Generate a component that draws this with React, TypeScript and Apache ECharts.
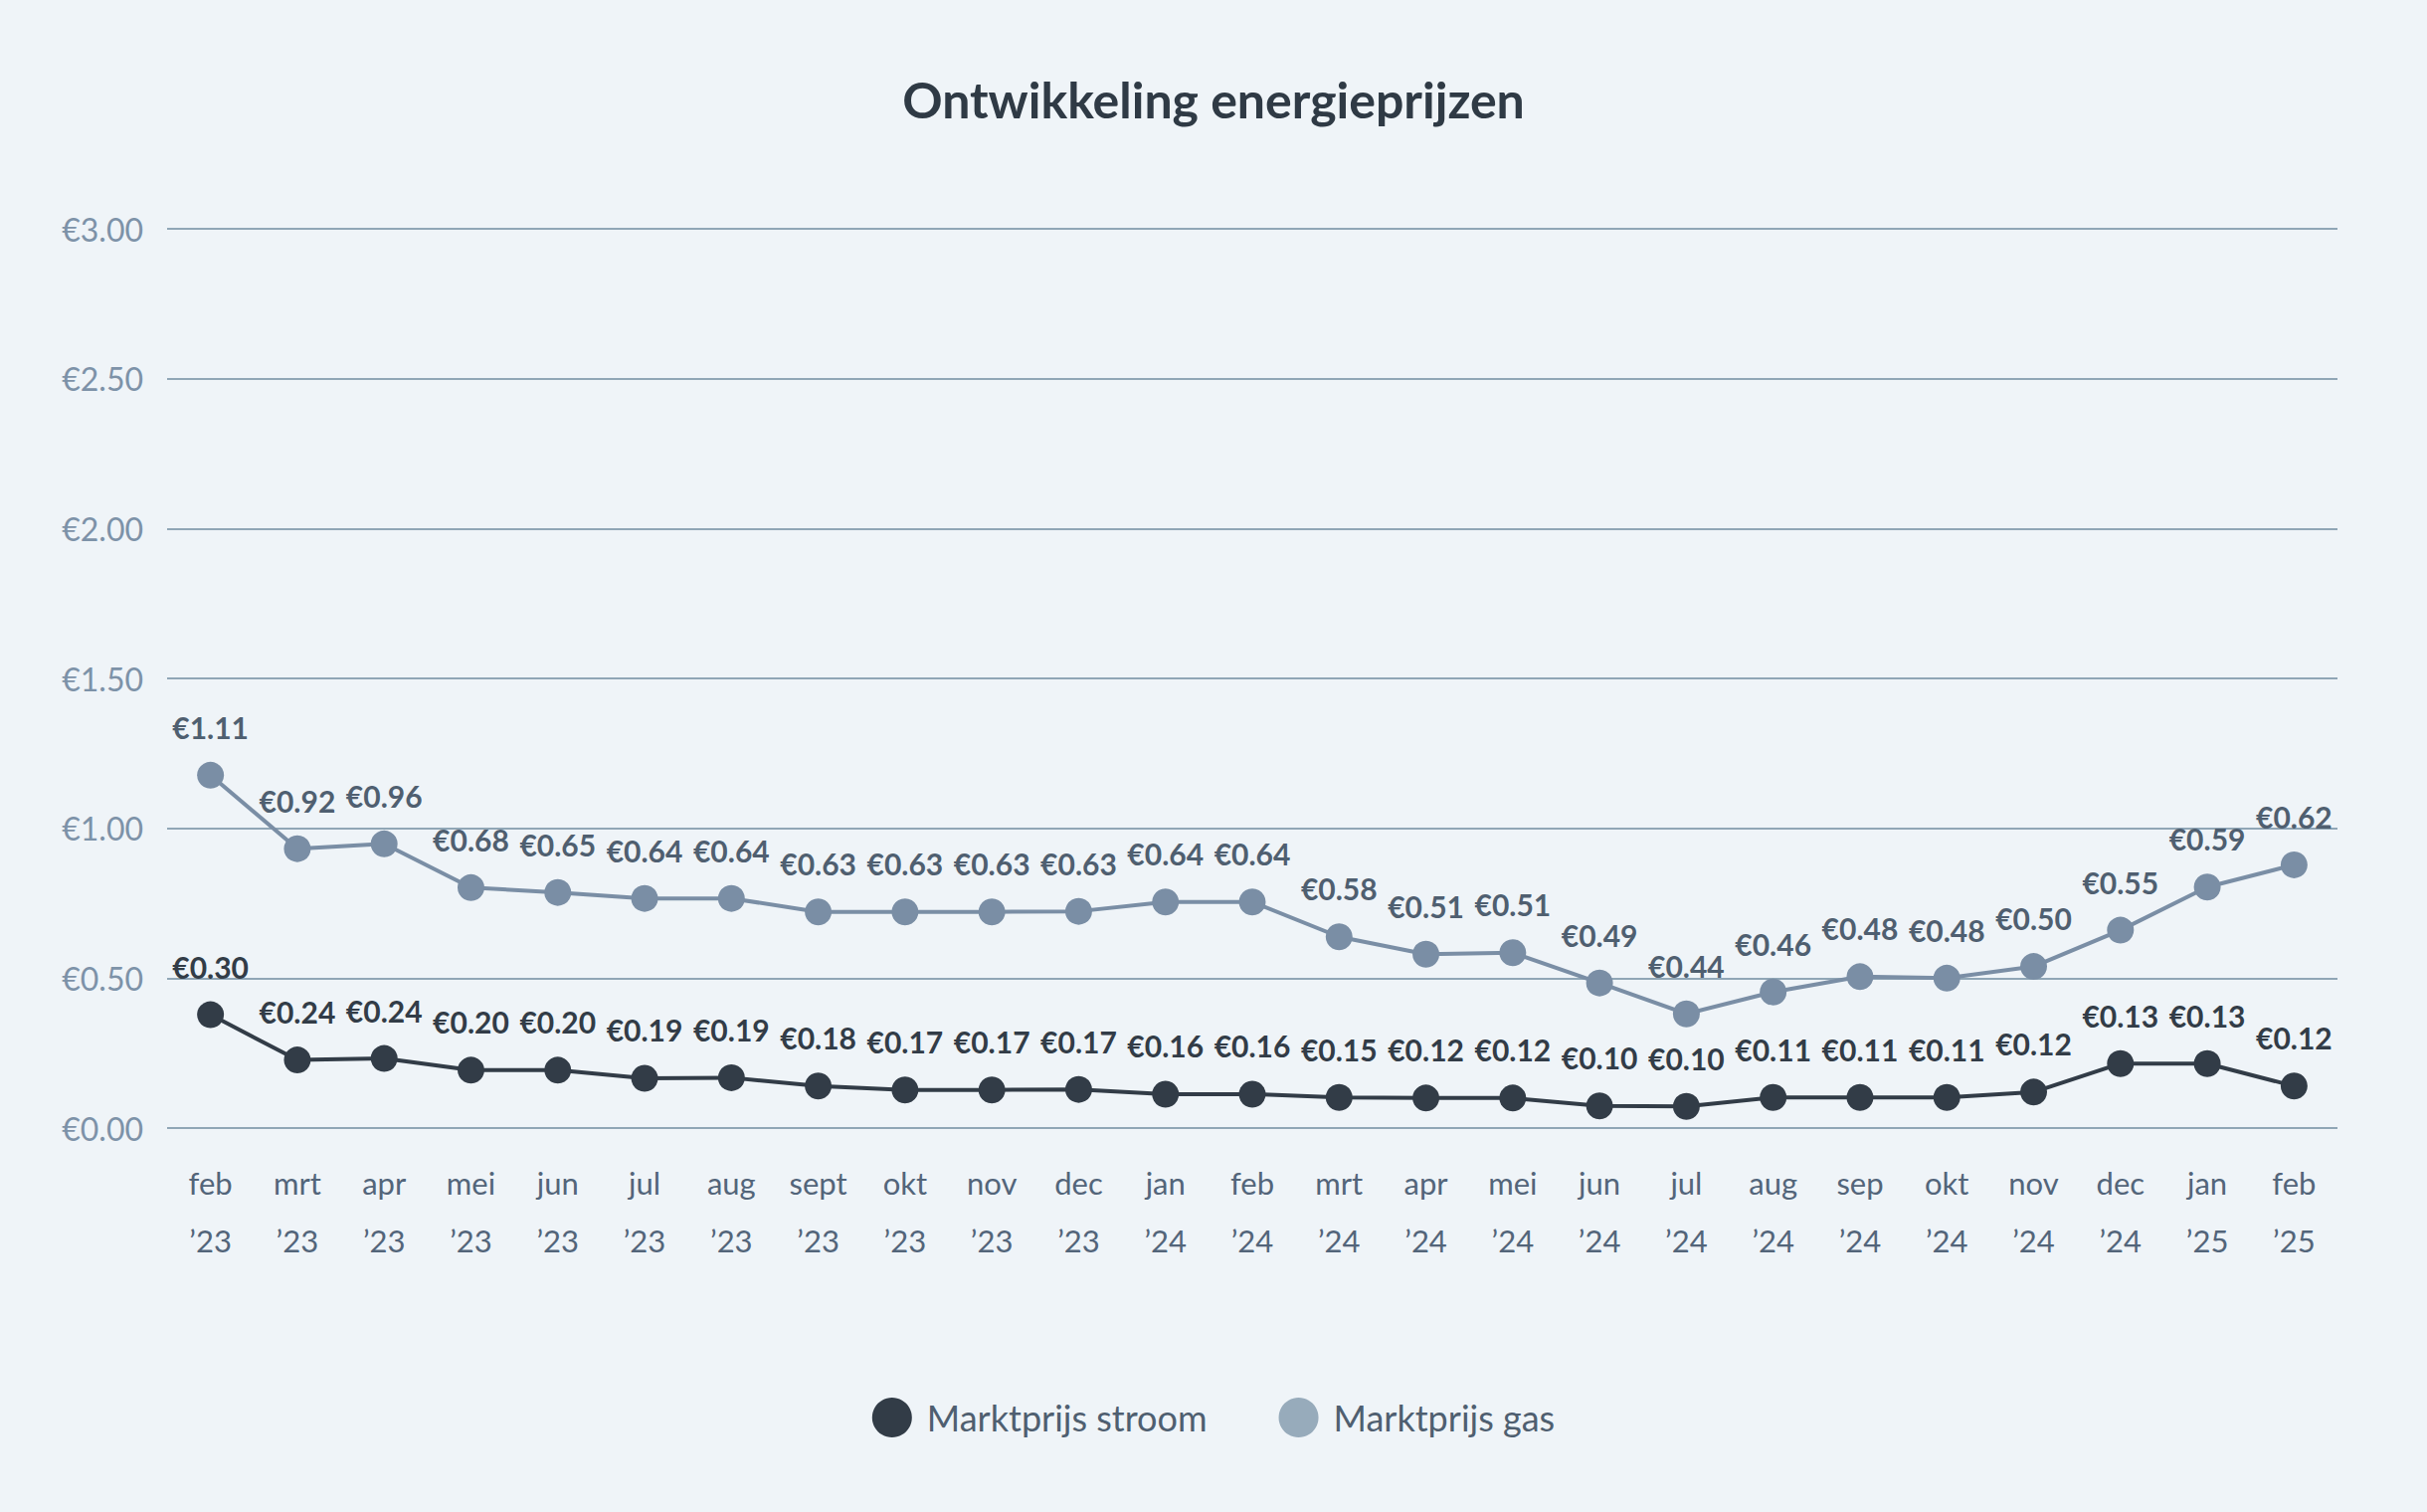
import React, { useEffect, useRef } from "react";
import * as echarts from "echarts";

const months = [
  "feb\n’23", "mrt\n’23", "apr\n’23", "mei\n’23", "jun\n’23", "jul\n’23", "aug\n’23", "sept\n’23",
  "okt\n’23", "nov\n’23", "dec\n’23", "jan\n’24", "feb\n’24", "mrt\n’24", "apr\n’24", "mei\n’24",
  "jun\n’24", "jul\n’24", "aug\n’24", "sep\n’24", "okt\n’24", "nov\n’24", "dec\n’24", "jan\n’25", "feb\n’25",
];

// Levels at which the points are drawn in the picture
const stroomLevels = [
  0.378, 0.227, 0.232, 0.193, 0.193, 0.166, 0.168, 0.14, 0.127, 0.127, 0.129, 0.113, 0.113,
  0.102, 0.1, 0.1, 0.074, 0.072, 0.102, 0.102, 0.102, 0.12, 0.215, 0.215, 0.14,
];
const gasLevels = [
  1.177, 0.932, 0.948, 0.802, 0.786, 0.766, 0.766, 0.721, 0.721, 0.721, 0.723, 0.754, 0.754,
  0.638, 0.58, 0.585, 0.484, 0.381, 0.454, 0.505, 0.5, 0.539, 0.66, 0.804, 0.878,
];

// Printed prices
const stroomPrices = [
  0.3, 0.24, 0.24, 0.2, 0.2, 0.19, 0.19, 0.18, 0.17, 0.17, 0.17, 0.16, 0.16,
  0.15, 0.12, 0.12, 0.1, 0.1, 0.11, 0.11, 0.11, 0.12, 0.13, 0.13, 0.12,
];
const gasPrices = [
  1.11, 0.92, 0.96, 0.68, 0.65, 0.64, 0.64, 0.63, 0.63, 0.63, 0.63, 0.64, 0.64,
  0.58, 0.51, 0.51, 0.49, 0.44, 0.46, 0.48, 0.48, 0.5, 0.55, 0.59, 0.62,
];

const FONT = "Lato, 'Noto Sans', sans-serif";

export default function App() {
  const ref = useRef<HTMLDivElement>(null);
  useEffect(() => {
    document.body.style.margin = "0";
    if (!ref.current) return;
    const chart = echarts.init(ref.current, undefined, { renderer: "svg" });
    chart.setOption({
      animation: false,
      backgroundColor: "#eff4f8",
      textStyle: { fontFamily: FONT },
      title: {
        text: "Ontwikkeling energieprijzen",
        left: "center",
        top: 70,
        textStyle: { fontSize: 50, fontWeight: "bold", color: "#2f3a45", fontFamily: FONT },
      },
      legend: {
        top: 1400,
        left: "center",
        icon: "circle",
        itemWidth: 40,
        itemHeight: 40,
        itemGap: 72,
        textStyle: { fontSize: 36, color: "#4f5f70", fontFamily: FONT, padding: [0, 0, 0, 10] },
        data: [
          { name: "Marktprijs stroom", itemStyle: { color: "#323c47" } },
          { name: "Marktprijs gas", itemStyle: { color: "#97abbb" } },
        ],
      },
      grid: { left: 168, right: 90, top: 230, bottom: 386, containLabel: false },
      xAxis: {
        type: "category",
        data: months,
        boundaryGap: true,
        axisLine: { show: false },
        axisTick: { show: false },
        axisLabel: {
          fontSize: 31,
          color: "#53657a",
          lineHeight: 58,
          margin: 26,
          fontFamily: FONT,
        },
      },
      yAxis: {
        type: "value",
        min: 0,
        max: 3,
        interval: 0.5,
        axisLine: { show: false },
        axisTick: { show: false },
        splitLine: { lineStyle: { color: "#90a6b6", width: 2 } },
        axisLabel: {
          fontSize: 32,
          color: "#7d92a8",
          margin: 24,
          fontFamily: FONT,
          formatter: (v: number) => "€" + v.toFixed(2),
        },
      },
      series: [
        {
          name: "Marktprijs stroom",
          type: "line",
          data: stroomLevels,
          symbol: "circle",
          symbolSize: 27,
          lineStyle: { color: "#323c47", width: 4 },
          itemStyle: { color: "#323c47" },
          label: {
            show: true,
            position: "top",
            distance: 20,
            fontSize: 30,
            fontWeight: "bold",
            color: "#323c47",
            fontFamily: FONT,
            formatter: (p: any) => "€" + stroomPrices[p.dataIndex].toFixed(2),
          },
          z: 3,
        },
        {
          name: "Marktprijs gas",
          type: "line",
          data: gasLevels,
          symbol: "circle",
          symbolSize: 27,
          lineStyle: { color: "#7a8ea5", width: 4 },
          itemStyle: { color: "#7a8ea5" },
          label: {
            show: true,
            position: "top",
            distance: 20,
            fontSize: 30,
            fontWeight: "bold",
            color: "#4f5f70",
            fontFamily: FONT,
            formatter: (p: any) => "€" + gasPrices[p.dataIndex].toFixed(2),
          },
          z: 2,
        },
      ],
    });
    return () => chart.dispose();
  }, []);
  return <div ref={ref} style={{ width: 2440, height: 1520 }} />;
}
